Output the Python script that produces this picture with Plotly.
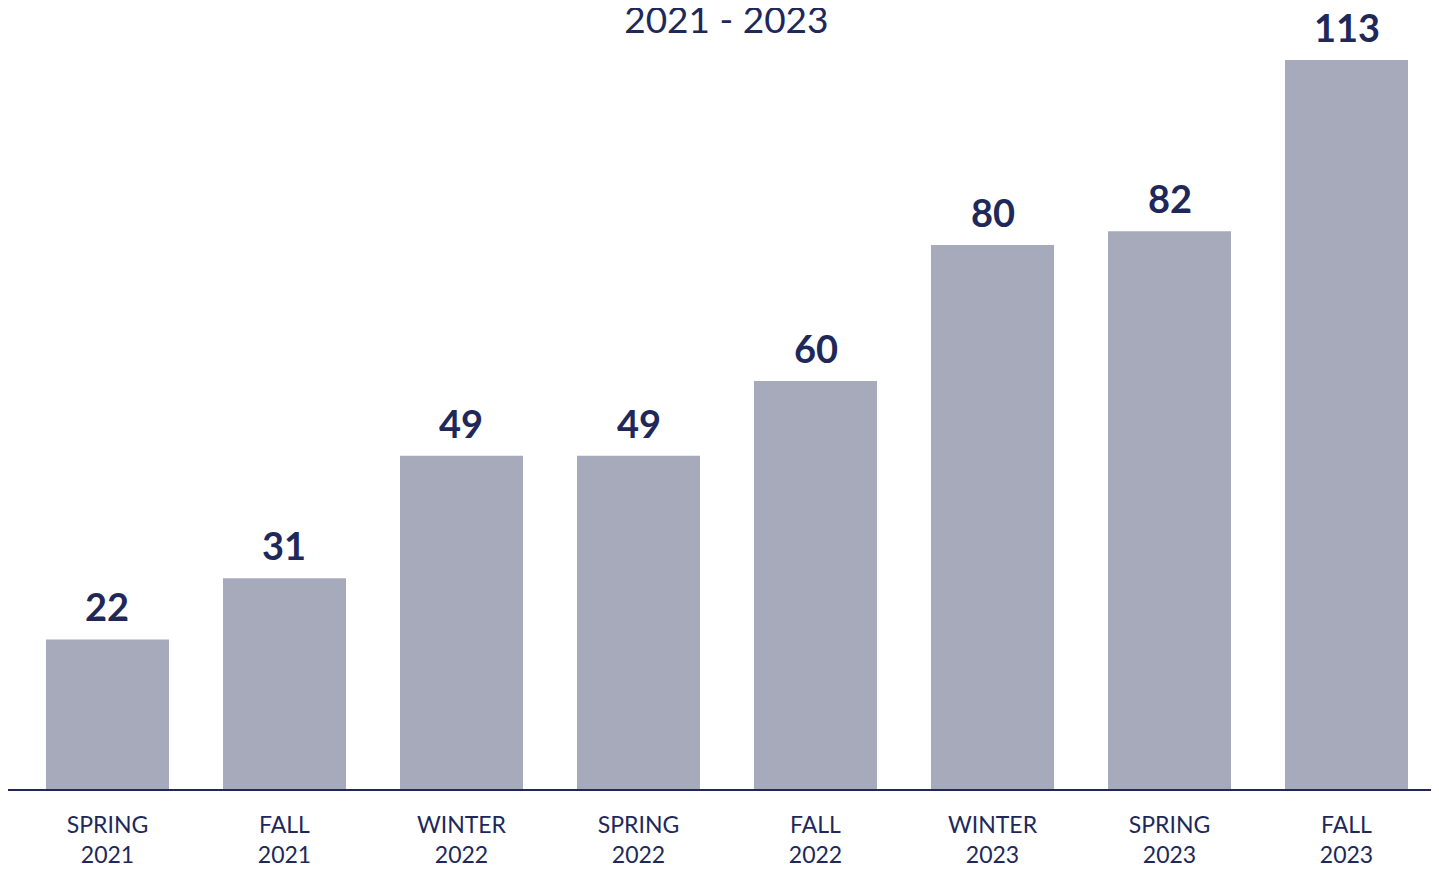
import plotly.graph_objects as go

categories = ["SPRING<br>2021", "FALL<br>2021", "WINTER<br>2022", "SPRING<br>2022",
              "FALL<br>2022", "WINTER<br>2023", "SPRING<br>2023", "FALL<br>2023"]
values = [22, 31, 49, 49, 60, 80, 82, 113]
title_text = "2021 - 2023"

NAVY = "#20285a"
BAR = "#a7aaba"
Y_MAX = 107.2  # visible value-axis maximum (tallest bar is truncated)

fig = go.Figure(go.Bar(
    x=categories, y=values, marker_color=BAR, marker_line_width=0,
    hoverinfo="skip",
))

for c, v in zip(categories, values):
    fig.add_annotation(
        x=c, y=min(v, Y_MAX), xref="x", yref="y", text=f"<b>{v}</b>",
        showarrow=False, yanchor="bottom", yshift=8,
        font=dict(family="Lato", size=38, color=NAVY, weight=900),
    )

fig.update_layout(
    width=1431, height=868,
    margin=dict(l=0, r=0, t=52, b=87),
    paper_bgcolor="white", plot_bgcolor="white",
    bargap=0.305,
    showlegend=False,
    title=dict(text=title_text, x=0.502, xanchor="center", y=0.986, yanchor="middle",
               yref="container", font=dict(family="Lato", size=37, color=NAVY)),
    xaxis=dict(
        type="category", range=[-0.5621, 7.5226],
        showline=True, linecolor=NAVY, linewidth=2, showgrid=False,
        ticks="", ticklabelstandoff=14,
        tickfont=dict(family="Lato", size=23, color=NAVY),
    ),
    yaxis=dict(range=[0, Y_MAX], visible=False, showgrid=False, zeroline=False),
)

fig.write_html("out.html")
